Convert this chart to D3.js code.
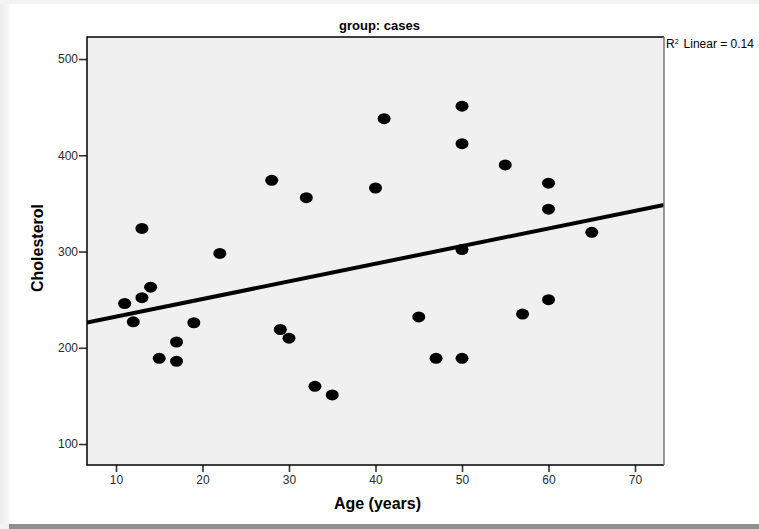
<!DOCTYPE html>
<html>
<head>
<meta charset="utf-8">
<script src="https://cdn.jsdelivr.net/npm/d3@7"></script>
<style>
  html, body { margin: 0; padding: 0; background: #f2f2f2; }
  svg { display: block; font-family: "Liberation Sans", Arial, sans-serif; }
</style>
</head>
<body>
<div class="main"></div>
<script>
// Données (âge, cholestérol)
const ages = [11, 12, 13, 13, 14, 15, 17, 17, 19, 22,
              28, 29, 30, 32, 33, 35, 40, 41, 45, 47,
              50, 50, 50, 50, 55, 57, 60, 60, 60, 65];
const cholesterol = [246, 227, 252, 324, 263, 189, 206, 186, 226, 298,
                     374, 219, 210, 356, 160, 151, 366, 438, 232, 189,
                     451, 412, 302, 189, 390, 235, 371, 344, 250, 320];
// Droite de régression (ordonnée à l'origine, pente) et R²
const fitLine = { intercept: 214, slope: 1.833 };
const rSquared = "0.14";
const xTicks = [10, 20, 30, 40, 50, 60, 70];
const yTicks = [100, 200, 300, 400, 500];

const W = 759, H = 529;
const plot = { left: 87, right: 664, top: 37, bottom: 465 };

const svg = d3.select('.main')
              .append('svg')
                  .attr('width', W)
                  .attr('height', H);

// Fond : panneau blanc avec ombre à gauche et en bas
const defs = svg.append("defs");
const grad = defs.append("linearGradient").attr("id", "leftShade");
grad.append("stop").attr("offset", "0%").attr("stop-color", "#ececec");
grad.append("stop").attr("offset", "100%").attr("stop-color", "#f8f8f8");
svg.append("rect").attr("x", 0).attr("y", 0).attr("width", W).attr("height", H).attr("fill", "#f2f2f2");
svg.append("rect").attr("x", 0).attr("y", 4).attr("width", 9).attr("height", 520).attr("fill", "url(#leftShade)");
svg.append("rect").attr("x", 9).attr("y", 4).attr("width", W - 9).attr("height", 520).attr("fill", "#ffffff");
svg.append("rect").attr("x", 9).attr("y", 524).attr("width", W - 9).attr("height", 5).attr("fill", "#8f8f8f");

const x = d3.scaleLinear().domain([6.65, 73.35]).range([plot.left, plot.right]);
const y = d3.scaleLinear().domain([78.2, 522.9]).range([plot.bottom, plot.top]);

// Zone du graphique
svg.append("rect")
    .attr("x", plot.left).attr("y", plot.top)
    .attr("width", plot.right - plot.left)
    .attr("height", plot.bottom - plot.top)
    .attr("fill", "#f0f0f0");

defs.append("clipPath").attr("id", "clip")
  .append("rect")
    .attr("x", plot.left).attr("y", plot.top)
    .attr("width", plot.right - plot.left)
    .attr("height", plot.bottom - plot.top);

// Axes
const gx = svg.append("g")
    .attr("transform", "translate(0," + plot.bottom + ")")
    .call(d3.axisBottom(x).tickValues(xTicks).tickSize(7).tickPadding(3));
const gy = svg.append("g")
    .attr("transform", "translate(" + plot.left + ",0)")
    .call(d3.axisLeft(y).tickValues(yTicks).tickSize(8).tickPadding(1));
[gx, gy].forEach(function(g) {
    g.select(".domain").remove();
    g.selectAll(".tick line").attr("stroke", "#333").attr("stroke-width", 1.6);
    g.selectAll(".tick text")
        .attr("fill", "#2a2a2a")
        .style("font-size", "12px")
        .style("font-family", "'Liberation Sans', Arial, sans-serif");
});

// Droite de régression
const line = d3.line()
    .x(function(d) { return x(d); })
    .y(function(d) { return y(fitLine.intercept + fitLine.slope * d); });
svg.append("path")
    .datum(x.domain())
    .attr("clip-path", "url(#clip)")
    .attr("fill", "none")
    .attr("stroke", "#000")
    .attr("stroke-width", 4)
    .attr("d", line);

// Points
svg.append("g")
  .selectAll("ellipse")
  .data(ages.map(function(a, i) { return { age: a, chol: cholesterol[i] }; }))
  .join("ellipse")
    .attr("cx", function(d) { return x(d.age); })
    .attr("cy", function(d) { return y(d.chol); })
    .attr("rx", 6.5)
    .attr("ry", 5.5)
    .attr("fill", "#000");

// Cadre
svg.append("path")
    .attr("d", "M" + plot.right + "," + plot.top + "H" + plot.left + "V" + plot.bottom + "H" + plot.right)
    .attr("fill", "none").attr("stroke", "#000").attr("stroke-width", 1.5);
svg.append("line")
    .attr("x1", plot.right).attr("x2", plot.right)
    .attr("y1", plot.top).attr("y2", plot.bottom)
    .attr("stroke", "#777").attr("stroke-width", 1.5);

// Titre
svg.append("text")
    .attr("x", (plot.left + plot.right) / 2 + 4)
    .attr("y", 30)
    .attr("text-anchor", "middle")
    .style("font-size", "13px")
    .style("font-weight", "bold")
    .text("group: cases");

// R² Linear
const r2 = svg.append("text")
    .attr("x", plot.right + 2)
    .attr("y", 48)
    .style("font-size", "12px");
r2.append("tspan").text("R");
r2.append("tspan").attr("dy", -4).style("font-size", "7px").text("2");
r2.append("tspan").attr("dy", 4).attr("dx", 5).text("Linear = " + rSquared);

// Titres des axes
svg.append("text")
    .attr("x", (plot.left + plot.right) / 2 + 2)
    .attr("y", 509)
    .attr("text-anchor", "middle")
    .style("font-size", "16px")
    .style("font-weight", "bold")
    .text("Age (years)");

svg.append("text")
    .attr("transform", "rotate(-90)")
    .attr("x", -248)
    .attr("y", 43)
    .attr("text-anchor", "middle")
    .style("font-size", "16px")
    .style("font-weight", "bold")
    .text("Cholesterol");
</script>
</body>
</html>
